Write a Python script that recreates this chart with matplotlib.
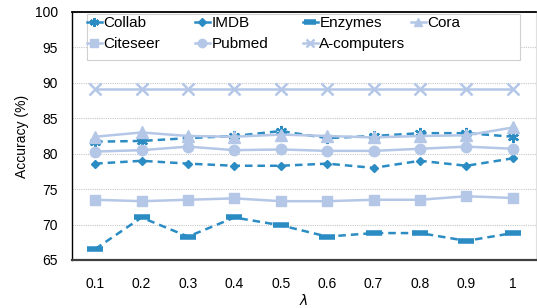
import matplotlib
matplotlib.use("Agg")
import matplotlib.pyplot as plt
from matplotlib.patches import Rectangle
from matplotlib.legend import Legend

lambdas = ["0.1", "0.2", "0.3", "0.4", "0.5", "0.6", "0.7", "0.8", "0.9", "1"]
collab = [81.7, 81.8, 82.2, 82.5, 83.2, 82.2, 82.5, 82.9, 82.9, 82.4]
imdb = [78.6, 79.0, 78.6, 78.3, 78.3, 78.6, 78.0, 79.0, 78.3, 79.35]
enzymes = [66.55, 71.0, 68.3, 71.0, 69.9, 68.3, 68.8, 68.8, 67.7, 68.8]
cora = [82.4, 83.0, 82.5, 82.4, 82.7, 82.5, 82.3, 82.5, 82.6, 83.7]
citeseer = [73.5, 73.3, 73.5, 73.7, 73.3, 73.3, 73.5, 73.5, 74.0, 73.75]
pubmed = [80.3, 80.5, 81.0, 80.5, 80.6, 80.4, 80.4, 80.7, 81.0, 80.7]
acomputers = [89.1] * 10

dark = "#2b8cc4"
light = "#b4c7e7"

plt.rcParams['font.family'] = ['Liberation Sans', 'DejaVu Sans']

W, H = 537, 308
L, R, T, B = 72, 536, 12, 260
fig = plt.figure(figsize=(W / 100, H / 100), dpi=100)
ax = fig.add_axes([L / W, (H - B) / H, (R - L) / W, (B - T) / H])

x = list(range(len(lambdas)))
lw = 1.8
series = [
    ("Collab", collab, dark, "--", (6, 2, 0), 8, 1.6),
    ("IMDB", imdb, dark, "--", "D", 4.5, 1.0),
    ("Enzymes", enzymes, dark, "--", "_", 11, 4.0),
    ("Cora", cora, light, "-", "^", 8, 1.0),
    ("Citeseer", citeseer, light, "-", "s", 7.5, 1.0),
    ("Pubmed", pubmed, light, "-", "o", 7.5, 1.0),
    ("A-computers", acomputers, light, "-", "x", 8, 1.8),
]
handles = []
for name, vals, c, ls, m, ms, mew in series:
    ln, = ax.plot(x, vals, color=c, linestyle=ls, linewidth=lw, marker=m,
                  markersize=ms, markeredgewidth=mew, markeredgecolor=c,
                  markerfacecolor=c, label=name,
                  dashes=(3, 2) if ls == "--" else (None, None))
    handles.append(ln)

ax.set_xlim(-0.5, 9.5)
ax.set_ylim(65, 100)
ax.set_yticks(range(65, 101, 5))
ax.set_xticks(x)
ax.set_xticklabels(lambdas)
ax.yaxis.grid(True, color="#c8c8c8", linestyle=(0, (1, 1)), linewidth=0.8)
ax.set_axisbelow(True)
ax.tick_params(axis='both', length=0, labelsize=10)
ax.tick_params(axis='x', pad=12)
ax.tick_params(axis='y', pad=10)
ax.spines["left"].set_color("black")
ax.spines["left"].set_linewidth(1.0)
ax.spines["top"].set_color("black")
ax.spines["top"].set_linewidth(1.3)
ax.spines["right"].set_color("#e0e0e0")
ax.spines["right"].set_linewidth(0.8)
ax.spines["bottom"].set_color("#404040")
ax.spines["bottom"].set_linewidth(1.6)

ax.set_ylabel("Accuracy (%)", fontsize=10, labelpad=4)
ax.set_xlabel(r"$\lambda$", fontsize=10, labelpad=1.5)

# legend: 4 equal-width columns, filled row by row
aw, ah = R - L, B - T
def ax_x(px):
    return (px - L) / aw
def ax_y(py):
    return (B - py) / ah

ncol = 4
col_px = [87, 195, 303, 411]
for i in range(ncol):
    hs = [handles[j] for j in range(i, len(handles), ncol)]
    leg = Legend(ax, hs, [h.get_label() for h in hs], loc="upper left",
                 bbox_to_anchor=(ax_x(col_px[i]), ax_y(16)),
                 bbox_transform=ax.transAxes,
                 fontsize=11, frameon=False, handlelength=0.95,
                 handletextpad=0.12, borderpad=0.0, borderaxespad=0.0,
                 labelspacing=0.45)
    for h in leg.legend_handles:
        h.set_linestyle("-")
        h.set_markersize(h.get_markersize() * 0.8)
    leg.set_zorder(6)
    ax.add_artist(leg)

frame = Rectangle((ax_x(86.7), ax_y(60)), ax_x(520) - ax_x(86.7),
                  ax_y(14) - ax_y(60), transform=ax.transAxes,
                  facecolor="white", edgecolor="#d0d0d0", linewidth=0.8,
                  zorder=4.5)
ax.add_patch(frame)

fig.savefig("out.png", dpi=100)
